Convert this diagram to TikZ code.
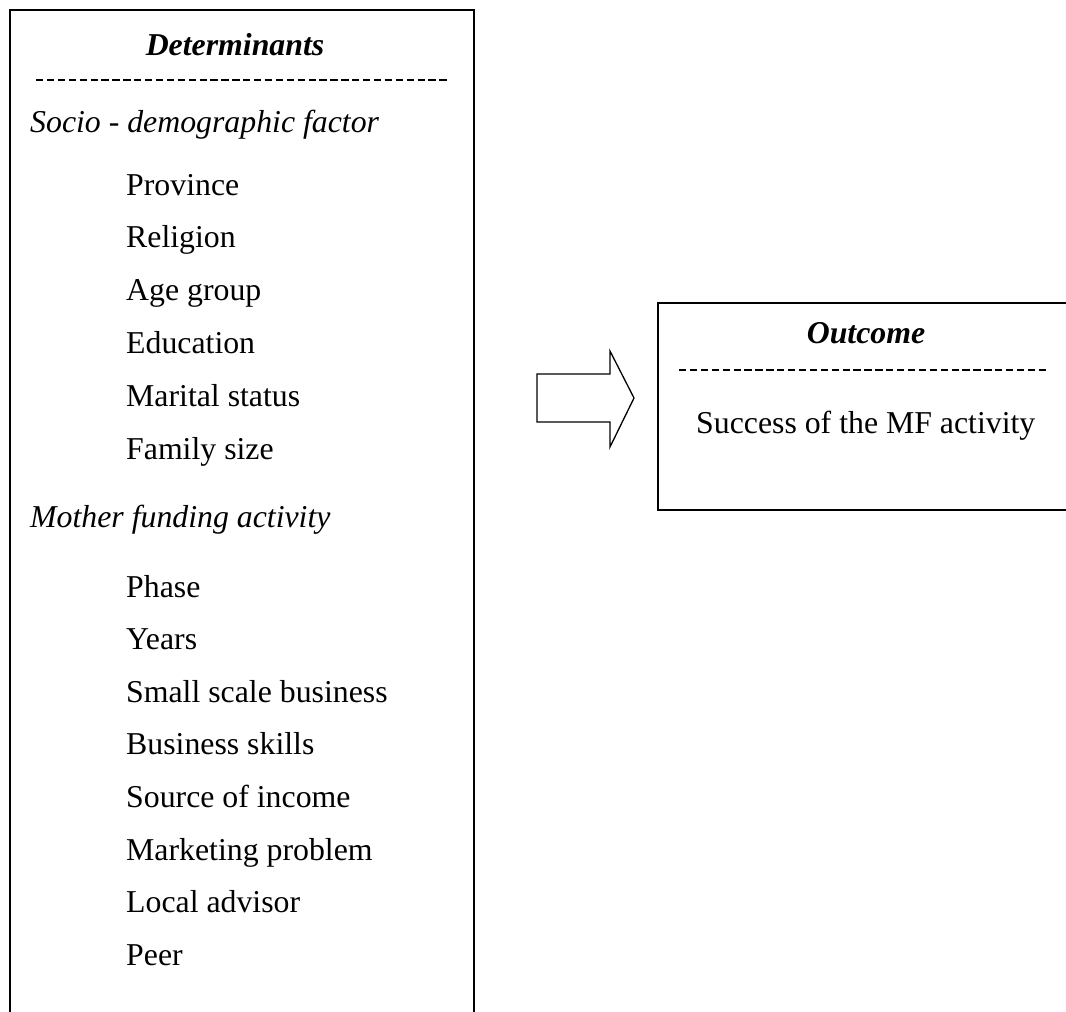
\documentclass[tikz,border=0pt]{standalone}
\usepackage{fontspec}
\setmainfont{Liberation Serif}
\usetikzlibrary{positioning}
\tikzset{item/.style={anchor=base west, inner sep=0pt, font=\fontsize{31.8}{38}\selectfont},
  group/.style={item, font=\fontsize{31.8}{38}\selectfont\itshape},
  head/.style={anchor=base, inner sep=0pt, font=\fontsize{31.8}{38}\selectfont\bfseries\itshape},
  rule/.style={line width=1.8pt, dash pattern=on 7.3pt off 3.6pt},
  frame/.style={line width=1.7pt}}

\begin{document}
\begin{tikzpicture}[x=1pt, y=-1pt]
\useasboundingbox (0,0) rectangle (1066,1012);

% determinants box, open at the bottom
\draw[frame] (10,1014) -- (10,10) -- (474,10) -- (474,1014);
\node[head] (det) at (235,55) {Determinants};
\draw[rule] (36,80) -- (446.6,80);

\node[group] (socio) at (30,132) {Socio - demographic factor};
\foreach \t [count=\i] in {Province, Religion, Age group, Education, Marital status, Family size}
  \node[item] (s\i) at (126,{195+52.8*(\i-1)}) {\t};

\node[group] (mother) at (30,527) {Mother funding activity};
\foreach \t [count=\i] in {Phase, Years, Small scale business, Business skills, Source of income, Marketing problem, Local advisor, Peer}
  \node[item] (m\i) at (126,{597+52.6*(\i-1)}) {\t};

% block arrow
\draw[line width=1.3pt, line join=miter] (537,374) -- (610,374) -- (610,351) -- (634,398)
  -- (610,447) -- (610,422) -- (537,422) -- cycle;

% outcome box
\draw[frame] (1068,303) -- (658,303) -- (658,510) -- (1068,510);
\node[head] (out) at (866,343) {Outcome};
\draw[rule] (679,370) -- (1046,370);
\node[item] (succ) at (696,433) {Success of the MF activity};
\end{tikzpicture}
\end{document}
